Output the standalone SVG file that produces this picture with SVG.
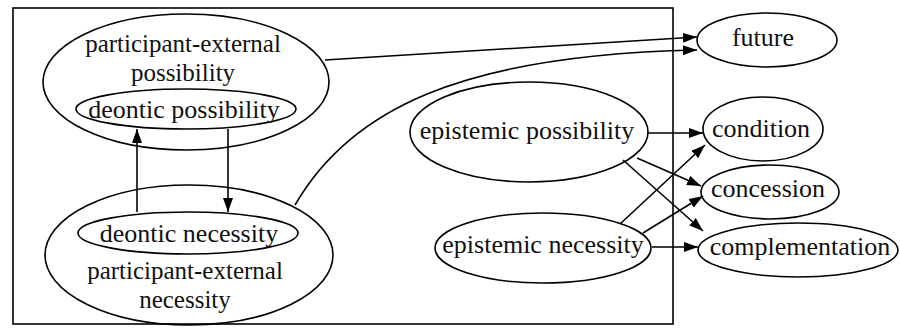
<svg xmlns="http://www.w3.org/2000/svg" width="900" height="329" viewBox="0 0 900 329">
<style>
.n{fill:none;stroke:#000;stroke-width:1.6}
.t{font-family:"Liberation Serif","Times New Roman",serif;font-size:26px;fill:#111;text-anchor:middle}
.m{font-size:25px}
.e{fill:none;stroke:#000;stroke-width:1.6}
</style>
<defs>
<marker id="ah" viewBox="0 0 14 10" refX="14" refY="5" markerWidth="14" markerHeight="10" markerUnits="userSpaceOnUse" orient="auto">
<path d="M0,0 L14,5 L0,10 z" fill="#000"/>
</marker>
</defs>
<rect x="13" y="8" width="660" height="316" fill="none" stroke="#000" stroke-width="1.6"/>
<g id="pe-possibility">
<ellipse class="n" cx="186" cy="82" rx="143" ry="68"/>
<text class="t m" x="183" y="52">participant-external</text>
<text class="t m" x="183" y="81">possibility</text>
</g>
<g id="deontic-possibility">
<ellipse class="n" cx="186" cy="109" rx="110" ry="20"/>
<text class="t" x="184" y="118">deontic possibility</text>
</g>
<g id="pe-necessity">
<ellipse class="n" cx="189" cy="255" rx="144" ry="70"/>
<text class="t m" x="185" y="279">participant-external</text>
<text class="t m" x="185" y="308">necessity</text>
</g>
<g id="deontic-necessity">
<ellipse class="n" cx="188" cy="233" rx="110" ry="21"/>
<text class="t" x="189" y="242">deontic necessity</text>
</g>
<g id="epistemic-possibility">
<ellipse class="n" cx="529" cy="132" rx="119" ry="50"/>
<text class="t" x="527" y="139">epistemic possibility</text>
</g>
<g id="epistemic-necessity">
<ellipse class="n" cx="543" cy="248" rx="108" ry="35"/>
<text class="t" x="543" y="253">epistemic necessity</text>
</g>
<g id="future">
<ellipse class="n" cx="767" cy="40" rx="70" ry="27"/>
<text class="t" x="763" y="46">future</text>
</g>
<g id="condition">
<ellipse class="n" cx="763" cy="129" rx="60" ry="32"/>
<text class="t" x="761" y="137">condition</text>
</g>
<g id="concession">
<ellipse class="n" cx="770" cy="192" rx="69" ry="27"/>
<text class="t" x="768" y="197">concession</text>
</g>
<g id="complementation">
<ellipse class="n" cx="798" cy="250" rx="100" ry="27"/>
<text class="t" x="800" y="255">complementation</text>
</g>
<g id="connectors">
<path class="e" d="M325,60 L697,37" marker-end="url(#ah)"/>
<path class="e" d="M295,205 C350,110 460,55 697,50" marker-end="url(#ah)"/>
<path class="e" d="M137,212 L137,129" marker-end="url(#ah)"/>
<path class="e" d="M228,129 L228,212" marker-end="url(#ah)"/>
<path class="e" d="M648,133 L703,133" marker-end="url(#ah)"/>
<path class="e" d="M637,158 L701,186" marker-end="url(#ah)"/>
<path class="e" d="M623,160 L703,231" marker-end="url(#ah)"/>
<path class="e" d="M620,224 L705,145" marker-end="url(#ah)"/>
<path class="e" d="M643,233 L703,196" marker-end="url(#ah)"/>
<path class="e" d="M652,247 L698,247" marker-end="url(#ah)"/>
</g>
</svg>
